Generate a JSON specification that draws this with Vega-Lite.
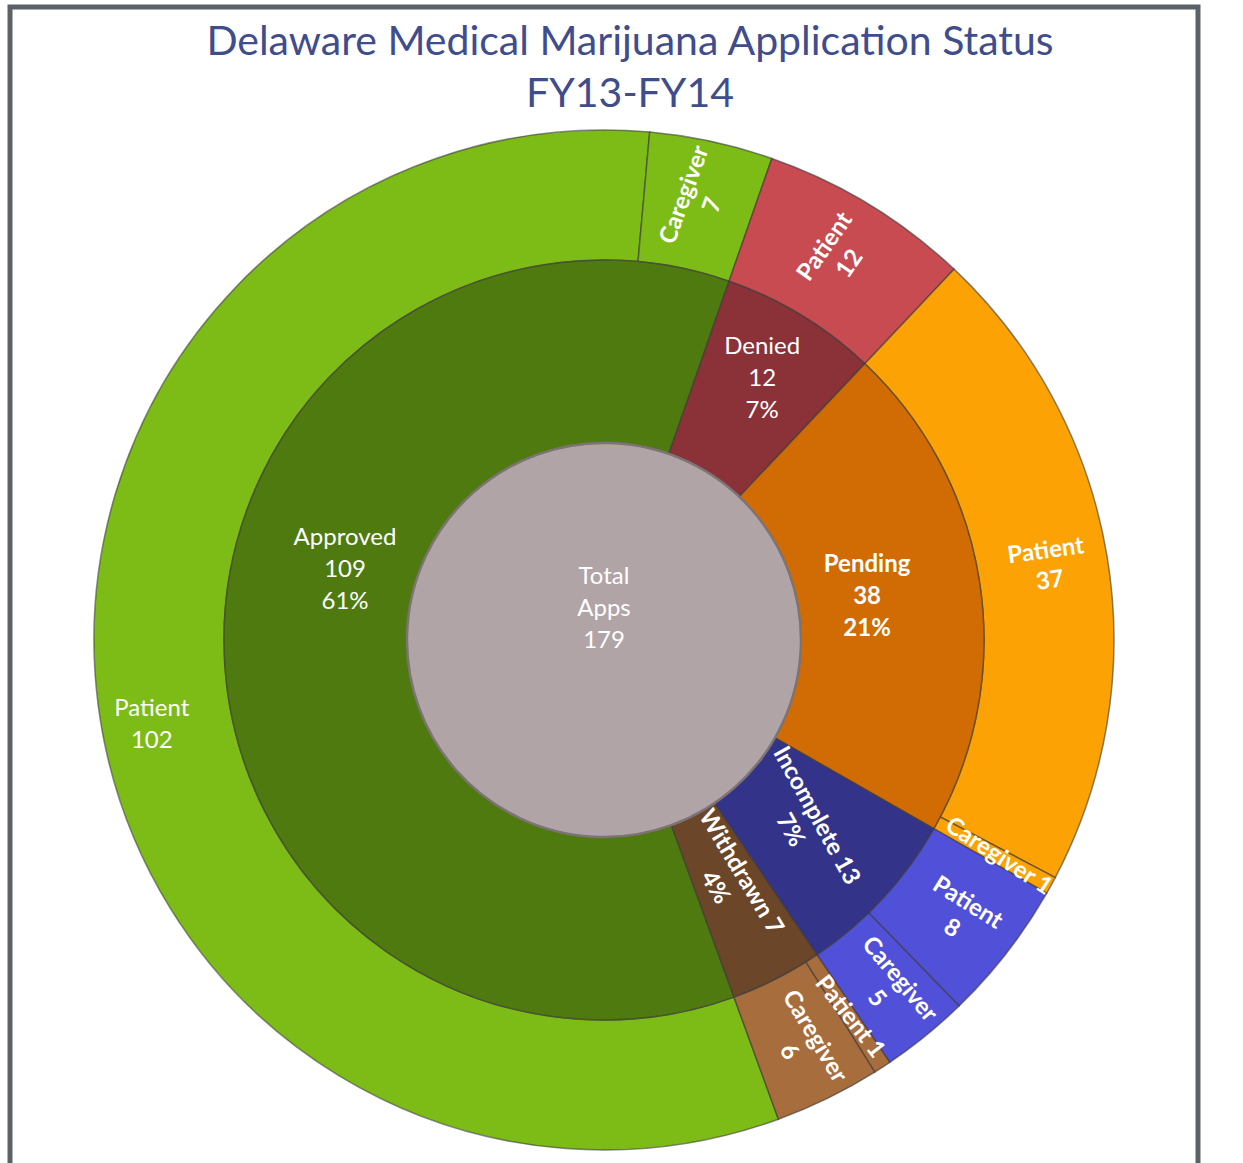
{
  "$schema": "https://vega.github.io/schema/vega-lite/v6.json",
  "autosize": "none",
  "width": 1188,
  "height": 1266,
  "padding": {"left": 10, "top": 7, "right": 45, "bottom": 0},
  "background": "white",
  "title": {
    "text": ["Delaware Medical Marijuana Application Status", "FY13-FY14"],
    "frame": "group",
    "anchor": "middle",
    "baseline": "alphabetic",
    "offset": -143,
    "dx": 26,
    "font": "Lato",
    "fontSize": 41,
    "fontWeight": "normal",
    "color": "#3f4d8c",
    "lineHeight": 52
  },
  "view": {"stroke": "#5b6369", "strokeWidth": 4},
  "config": {"view": {"stroke": "#5b6369", "strokeWidth": 4}},
  "datasets": {
    "outer": [
      {"status": "Approved", "type": "Patient", "n": 102, "seq": 1, "label": "Patient\n102"},
      {"status": "Approved", "type": "Caregiver", "n": 7, "seq": 2, "label": "Caregiver\n7"},
      {"status": "Denied", "type": "Patient", "n": 12, "seq": 3, "label": "Patient\n12"},
      {"status": "Pending", "type": "Patient", "n": 37, "seq": 4, "label": "Patient\n37"},
      {"status": "Pending", "type": "Caregiver", "n": 1, "seq": 5, "label": "Caregiver 1"},
      {"status": "Incomplete", "type": "Patient", "n": 8, "seq": 6, "label": "Patient\n8"},
      {"status": "Incomplete", "type": "Caregiver", "n": 5, "seq": 7, "label": "Caregiver\n5"},
      {"status": "Withdrawn", "type": "Patient", "n": 1, "seq": 8, "label": "Patient 1"},
      {"status": "Withdrawn", "type": "Caregiver", "n": 6, "seq": 9, "label": "Caregiver\n6"}
    ],
    "middle": [
      {"status": "Approved", "n": 109, "seq": 1, "label": "Approved\n109\n61%"},
      {"status": "Denied", "n": 12, "seq": 2, "label": "Denied\n12\n7%"},
      {"status": "Pending", "n": 38, "seq": 3, "label": "Pending\n38\n21%"},
      {"status": "Incomplete", "n": 13, "seq": 4, "label": "Incomplete 13\n7%"},
      {"status": "Withdrawn", "n": 7, "seq": 5, "label": "Withdrawn 7\n4%"}
    ],
    "total": [
      {"n": 179, "label": "Total\nApps\n179"}
    ]
  },
  "layer": [
    {
      "data": {"name": "total"},
      "mark": {"type": "rect", "fill": null, "stroke": "#5b6369", "strokeWidth": 5, "x2Offset": 43},
      "encoding": {}
    },
    {
      "data": {"name": "outer"},
      "mark": {"type": "arc", "radius": 510, "radius2": 380, "stroke": "#3a3a3a", "strokeWidth": 1.5, "strokeOpacity": 0.6},
      "encoding": {
        "theta": {"field": "n", "type": "quantitative", "stack": true, "scale": {"range": [2.7925, 9.0757]}},
        "order": {"field": "seq", "type": "quantitative"},
        "color": {
          "field": "status", "type": "nominal", "legend": null,
          "scale": {"domain": ["Approved", "Denied", "Pending", "Incomplete", "Withdrawn"],
                    "range": ["#7dbb16", "#c84b52", "#fca204", "#5050d8", "#a86d3c"]}
        }
      }
    },
    {
      "data": {"name": "middle"},
      "mark": {"type": "arc", "radius": 380, "radius2": 0, "stroke": "#3a3a3a", "strokeWidth": 1.5, "strokeOpacity": 0.6},
      "encoding": {
        "theta": {"field": "n", "type": "quantitative", "stack": true, "scale": {"range": [2.7925, 9.0757]}},
        "order": {"field": "seq", "type": "quantitative"},
        "color": {
          "field": "status", "type": "nominal", "legend": null,
          "scale": {"domain": ["Approved", "Denied", "Pending", "Incomplete", "Withdrawn"],
                    "range": ["#4e7a0f", "#8a3238", "#d16b04", "#34338a", "#6b4628"]}
        }
      }
    },
    {
      "data": {"name": "total"},
      "mark": {"type": "arc", "radius": 197, "radius2": 0, "fill": "#b1a4a6", "stroke": "#7d7375", "strokeWidth": 2.5},
      "encoding": {
        "theta": {"field": "n", "type": "quantitative", "stack": true, "scale": {"range": [2.7925, 9.0757]}}
      }
    },
    {
      "data": {"name": "outer"},
      "mark": {"type": "text", "radius": 450, "dx": -6, "dy": 11, "font": "Lato", "fontSize": 24, "fontWeight": "normal", "fill": "white", "align": "center", "baseline": "middle", "lineBreak": "\n", "lineHeight": 32},
      "encoding": {
        "theta": {"field": "n", "type": "quantitative", "stack": true, "scale": {"range": [2.7925, 9.0757]}},
        "order": {"field": "seq", "type": "quantitative"},
        "text": {"field": "label", "type": "nominal"},
        "opacity": {"condition": {"test": "datum.status === 'Approved' && datum.type === 'Patient'", "value": 1}, "value": 0}
      }
    },
    {
      "data": {"name": "outer"},
      "mark": {"type": "text", "radius": 450, "dy": -15, "font": "Lato", "fontSize": 24, "fontWeight": "bold", "fill": "white", "align": "center", "baseline": "middle", "lineBreak": "\n", "lineHeight": 30},
      "encoding": {
        "theta": {"field": "n", "type": "quantitative", "stack": true, "scale": {"range": [2.7925, 9.0757]}},
        "order": {"field": "seq", "type": "quantitative"},
        "text": {"field": "label", "type": "nominal"},
        "angle": {
          "condition": [
            {"test": "datum.status === 'Approved' && datum.type === 'Caregiver'", "value": -70},
            {"test": "datum.status === 'Denied'", "value": -55},
            {"test": "datum.status === 'Pending' && datum.type === 'Patient'", "value": -8},
            {"test": "datum.status === 'Incomplete' && datum.type === 'Patient'", "value": 32},
            {"test": "datum.status === 'Incomplete' && datum.type === 'Caregiver'", "value": 50},
            {"test": "datum.status === 'Withdrawn' && datum.type === 'Caregiver'", "value": 59}
          ],
          "value": 0
        },
        "opacity": {"condition": {"test": "(datum.status === 'Approved' && datum.type === 'Patient') || datum.n === 1", "value": 0}, "value": 1}
      }
    },
    {
      "data": {"name": "outer"},
      "mark": {"type": "text", "radius": 450, "font": "Lato", "fontSize": 24, "fontWeight": "bold", "fill": "white", "align": "center", "baseline": "middle", "lineBreak": "\n", "lineHeight": 30},
      "encoding": {
        "theta": {"field": "n", "type": "quantitative", "stack": true, "scale": {"range": [2.7925, 9.0757]}},
        "order": {"field": "seq", "type": "quantitative"},
        "text": {"field": "label", "type": "nominal"},
        "angle": {
          "condition": [
            {"test": "datum.status === 'Pending'", "value": 33},
            {"test": "datum.status === 'Withdrawn'", "value": 52}
          ],
          "value": 0
        },
        "opacity": {"condition": {"test": "datum.n === 1", "value": 1}, "value": 0}
      }
    },
    {
      "data": {"name": "middle"},
      "mark": {"type": "text", "radius": 270, "dx": 11, "dy": -104, "font": "Lato", "fontSize": 24, "fontWeight": "normal", "fill": "white", "align": "center", "baseline": "middle", "lineBreak": "\n", "lineHeight": 32},
      "encoding": {
        "theta": {"field": "n", "type": "quantitative", "stack": true, "scale": {"range": [2.7925, 9.0757]}},
        "order": {"field": "seq", "type": "quantitative"},
        "text": {"field": "label", "type": "nominal"},
        "opacity": {"condition": {"test": "datum.status === 'Approved'", "value": 1}, "value": 0}
      }
    },
    {
      "data": {"name": "middle"},
      "mark": {"type": "text", "radius": 295, "dx": 5, "dy": -41, "font": "Lato", "fontSize": 24, "fontWeight": "normal", "fill": "white", "align": "center", "baseline": "middle", "lineBreak": "\n", "lineHeight": 32},
      "encoding": {
        "theta": {"field": "n", "type": "quantitative", "stack": true, "scale": {"range": [2.7925, 9.0757]}},
        "order": {"field": "seq", "type": "quantitative"},
        "text": {"field": "label", "type": "nominal"},
        "opacity": {"condition": {"test": "datum.status === 'Denied'", "value": 1}, "value": 0}
      }
    },
    {
      "data": {"name": "middle"},
      "mark": {"type": "text", "radius": 270, "dx": -4, "dy": -35, "font": "Lato", "fontSize": 24, "fontWeight": "bold", "fill": "white", "align": "center", "baseline": "middle", "lineBreak": "\n", "lineHeight": 32},
      "encoding": {
        "theta": {"field": "n", "type": "quantitative", "stack": true, "scale": {"range": [2.7925, 9.0757]}},
        "order": {"field": "seq", "type": "quantitative"},
        "text": {"field": "label", "type": "nominal"},
        "opacity": {"condition": {"test": "datum.status === 'Pending'", "value": 1}, "value": 0}
      }
    },
    {
      "data": {"name": "middle"},
      "mark": {"type": "text", "radius": 270, "dy": -16, "font": "Lato", "fontSize": 24, "fontWeight": "bold", "fill": "white", "align": "center", "baseline": "middle", "lineBreak": "\n", "lineHeight": 30},
      "encoding": {
        "theta": {"field": "n", "type": "quantitative", "stack": true, "scale": {"range": [2.7925, 9.0757]}},
        "order": {"field": "seq", "type": "quantitative"},
        "text": {"field": "label", "type": "nominal"},
        "angle": {
          "condition": [
            {"test": "datum.status === 'Incomplete'", "value": 61},
            {"test": "datum.status === 'Withdrawn'", "value": 59}
          ],
          "value": 0
        },
        "opacity": {"condition": {"test": "datum.status === 'Incomplete' || datum.status === 'Withdrawn'", "value": 1}, "value": 0}
      }
    },
    {
      "data": {"name": "total"},
      "mark": {"type": "text", "dy": -63, "font": "Lato", "fontSize": 24, "fontWeight": "normal", "fill": "white", "align": "center", "baseline": "middle", "lineBreak": "\n", "lineHeight": 32},
      "encoding": {
        "text": {"field": "label", "type": "nominal"}
      }
    }
  ],
  "resolve": {"scale": {"color": "independent"}}
}
